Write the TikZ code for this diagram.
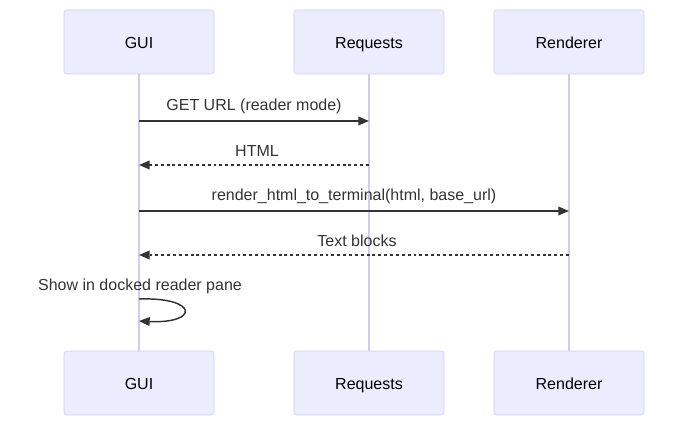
\documentclass[tikz,border=0pt]{standalone}
\usepackage{fontspec}
\setmainfont{Liberation Sans}
\usetikzlibrary{arrows.meta}
\definecolor{actfill}{HTML}{ECECFF}
\definecolor{actline}{HTML}{D3CCF2}
\definecolor{ink}{HTML}{333333}
\tikzset{
  actor/.style={draw=actline, fill=actfill, rounded corners=2pt, minimum width=112.5pt, minimum height=48pt, text height=10.1pt, text depth=0.9pt, font=\fontsize{12pt}{14pt}\selectfont, text=black},
  life/.style={draw=actline, line width=1.1pt},
  msg/.style={draw=ink, line width=1.1pt, -{Triangle[length=8pt, width=6.5pt]}},
  reply/.style={msg, dash pattern=on 2.2pt off 2.2pt},
  txt/.style={font=\fontsize{12pt}{14pt}\selectfont, text=ink, text height=10.1pt, text depth=0.9pt}
}
\begin{document}
\begin{tikzpicture}[x=0.75pt, y=-0.75pt]
    \useasboundingbox (0,0) rectangle (695,427);
    \node[actor] (guitop) at (139,42) {GUI};
    \node[actor] (reqtop) at (369,42) {Requests};
    \node[actor] (rentop) at (569,42) {Renderer};
    \node[actor] (guibot) at (139,383) {GUI};
    \node[actor] (reqbot) at (369,383) {Requests};
    \node[actor] (renbot) at (569,383) {Renderer};
    \draw[life] (guitop) -- (guibot);
    \draw[life] (reqtop) -- (reqbot);
    \draw[life] (rentop) -- (renbot);
    \draw[msg] (guitop |- 0,121) -- node[txt, yshift=12.75pt] (m1) {GET URL (reader mode)} (reqtop |- 0,121);
    \draw[reply] (reqtop |- 0,165) -- node[txt, yshift=11.25pt, xshift=2.25pt] (m2) {HTML} (guitop |- 0,165);
    \draw[msg] (guitop |- 0,211) -- node[txt, yshift=12.75pt] (m3) {render\_html\_to\_terminal(html, base\_url)} (rentop |- 0,211);
    \draw[reply] (rentop |- 0,255) -- node[txt, yshift=11.25pt, xshift=2.25pt] (m4) {Text blocks} (guitop |- 0,255);
    \node[txt] (m5) at (140,284) {Show in docked reader pane};
    \draw[msg] (guitop |- 0,299) .. controls (199,297) and (199,324) .. (guitop |- 0,321);
\end{tikzpicture}
\end{document}
